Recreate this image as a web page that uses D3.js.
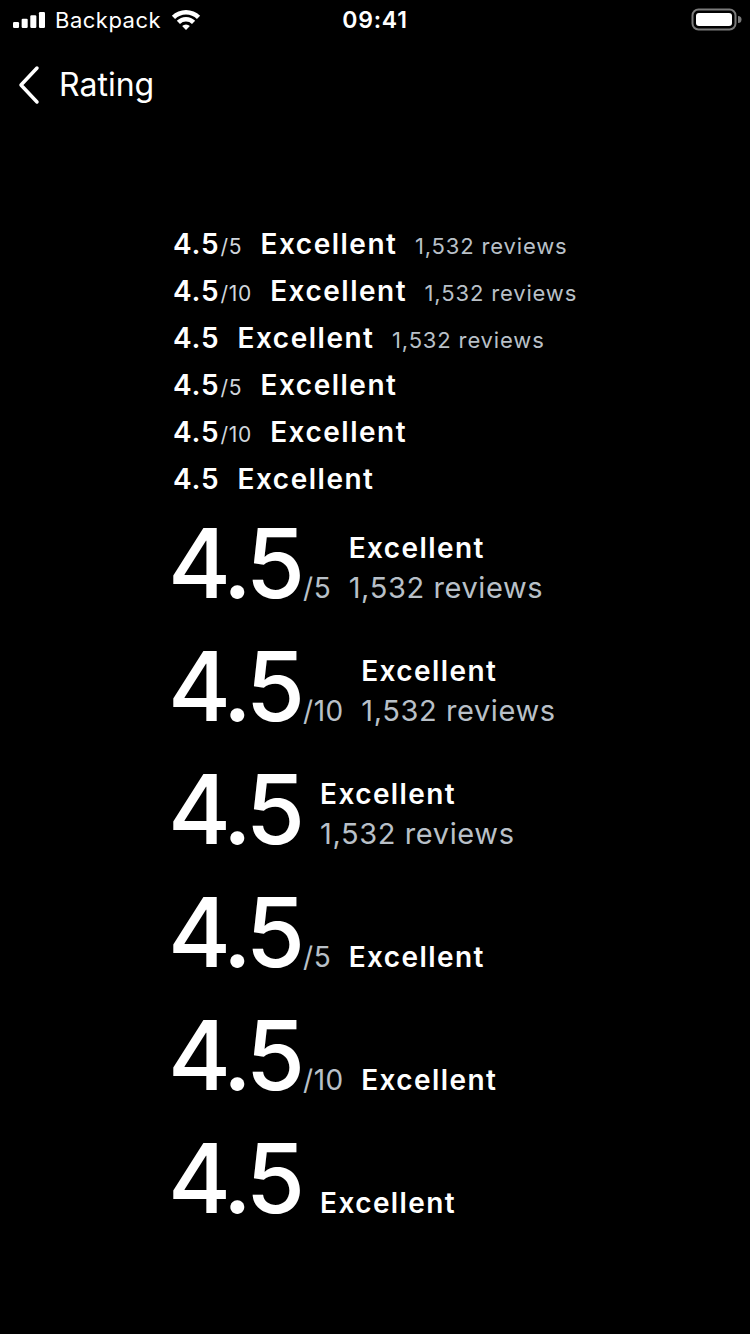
<!DOCTYPE html>
<html>
<head>
<meta charset="utf-8">
<script src="https://cdn.jsdelivr.net/npm/d3@7"></script>
<style>
  html, body { margin: 0; padding: 0; background: #000; }
  svg { display: block; }
  text { font-family: Inter, "Noto Sans", sans-serif; }
</style>
</head>
<body>
<div id="screen"></div>
<script>
// Data
var ratingValue = "4.5";
var ratingLabel = "Excellent";
var reviewText = "1,532 reviews";
var scaleSuffixes = ["/5", "/10", ""];
// small variants: first three with reviews, last three without
var smallVariants = [
  { suffix: "/5", reviews: true },
  { suffix: "/10", reviews: true },
  { suffix: "", reviews: true },
  { suffix: "/5", reviews: false },
  { suffix: "/10", reviews: false },
  { suffix: "", reviews: false }
];
var largeVariants = [
  { suffix: "/5", reviews: true },
  { suffix: "/10", reviews: true },
  { suffix: "", reviews: true },
  { suffix: "/5", reviews: false },
  { suffix: "/10", reviews: false },
  { suffix: "", reviews: false }
];
var signalLevels = [1, 2, 3, 4];

var W = 750, H = 1334;
var grey = "#b9c0c8";

var svg = d3.select("#screen").append("svg")
  .attr("width", W).attr("height", H);

svg.append("rect").attr("width", W).attr("height", H).attr("fill", "#000");

// Status bar
var barX = d3.scaleBand().domain(signalLevels).range([13, 45]).paddingInner(0.3);
var barH = d3.scaleLinear().domain([1, 4]).range([6, 16]);
svg.selectAll(".sig").data(signalLevels).enter().append("rect")
  .attr("x", d => barX(d))
  .attr("y", d => 28 - barH(d))
  .attr("width", barX.bandwidth())
  .attr("height", d => barH(d))
  .attr("rx", 1.2)
  .attr("fill", "#fff");

svg.append("text")
  .attr("x", 55).attr("y", 28)
  .attr("fill", "#fff").attr("font-size", 22).attr("letter-spacing", 0.5)
  .text("Backpack");

// wifi
var wifi = svg.append("g").attr("transform", "translate(186,30)");
[[0, 5.5], [8.5, 13], [15.5, 20]].forEach(function (r) {
  wifi.append("path")
    .attr("d", d3.arc()({ innerRadius: r[0], outerRadius: r[1], startAngle: -Math.PI / 4, endAngle: Math.PI / 4, cornerRadius: 1 }))
    .attr("fill", "#fff");
});

svg.append("text")
  .attr("x", 375).attr("y", 28)
  .attr("text-anchor", "middle")
  .attr("fill", "#fff").attr("font-size", 23).attr("font-weight", 600).attr("letter-spacing", 0.8)
  .text("09:41");

// battery
svg.append("rect")
  .attr("x", 692.5).attr("y", 9.5).attr("width", 43).attr("height", 20)
  .attr("rx", 6).attr("fill", "none").attr("stroke", "#7a7a7a").attr("stroke-width", 2);
svg.append("rect")
  .attr("x", 696).attr("y", 13).attr("width", 36).attr("height", 13)
  .attr("rx", 3).attr("fill", "#fff");
svg.append("path")
  .attr("d", "M738,16 a3,3 0 0 1 0,7 z")
  .attr("fill", "#7a7a7a");

// Nav header
svg.append("path")
  .attr("d", "M37,68 L21,85 L37,102")
  .attr("fill", "none").attr("stroke", "#fff")
  .attr("stroke-width", 3.5).attr("stroke-linecap", "round").attr("stroke-linejoin", "round");
svg.append("text")
  .attr("x", 59).attr("y", 96)
  .attr("fill", "#fff").attr("font-size", 32)
  .text("Rating");

// Rows
var left = 173;
var ySmall = d3.scalePoint().domain(d3.range(smallVariants.length)).range([254, 489]);
var yLarge = d3.scalePoint().domain(d3.range(largeVariants.length)).range([598, 1213]);

// draws a text and returns x of its visible right edge
function addText(g, x, y, str, size, weight, color, ls) {
  ls = ls || 0;
  var t = g.append("text")
    .attr("x", x).attr("y", y)
    .attr("font-size", size).attr("font-weight", weight)
    .attr("letter-spacing", ls)
    .attr("fill", color).text(str);
  return x + t.node().getComputedTextLength() - ls;
}

var small = svg.append("g").attr("class", "small-ratings");
smallVariants.forEach(function (v, i) {
  var y = ySmall(i);
  var x = addText(small, left, y, ratingValue, 28, 600, "#fff", 0.8);
  if (v.suffix) x = addText(small, x + 2, y, v.suffix, 21, 400, "#d0d6dc", 0.6);
  x = addText(small, x + 19, y, ratingLabel, 28, 600, "#fff", 1.5);
  if (v.reviews) addText(small, x + 19, y, reviewText, 22, 400, grey, 0.85);
});

var large = svg.append("g").attr("class", "large-ratings");
largeVariants.forEach(function (v, i) {
  var y = yLarge(i);
  var x = addText(large, left - 5, y, ratingValue, 96, 500, "#fff", -5);
  if (v.suffix) x = addText(large, x - 2, y, v.suffix, 28, 400, grey, 0.5);
  x += v.suffix ? 18 : 15;
  if (v.reviews) {
    addText(large, x, y - 40, ratingLabel, 28, 600, "#fff", 1.4);
    addText(large, x, y, reviewText, 29, 400, grey, 0.6);
  } else {
    addText(large, x, y, ratingLabel, 28, 600, "#fff", 1.4);
  }
});
</script>
</body>
</html>
